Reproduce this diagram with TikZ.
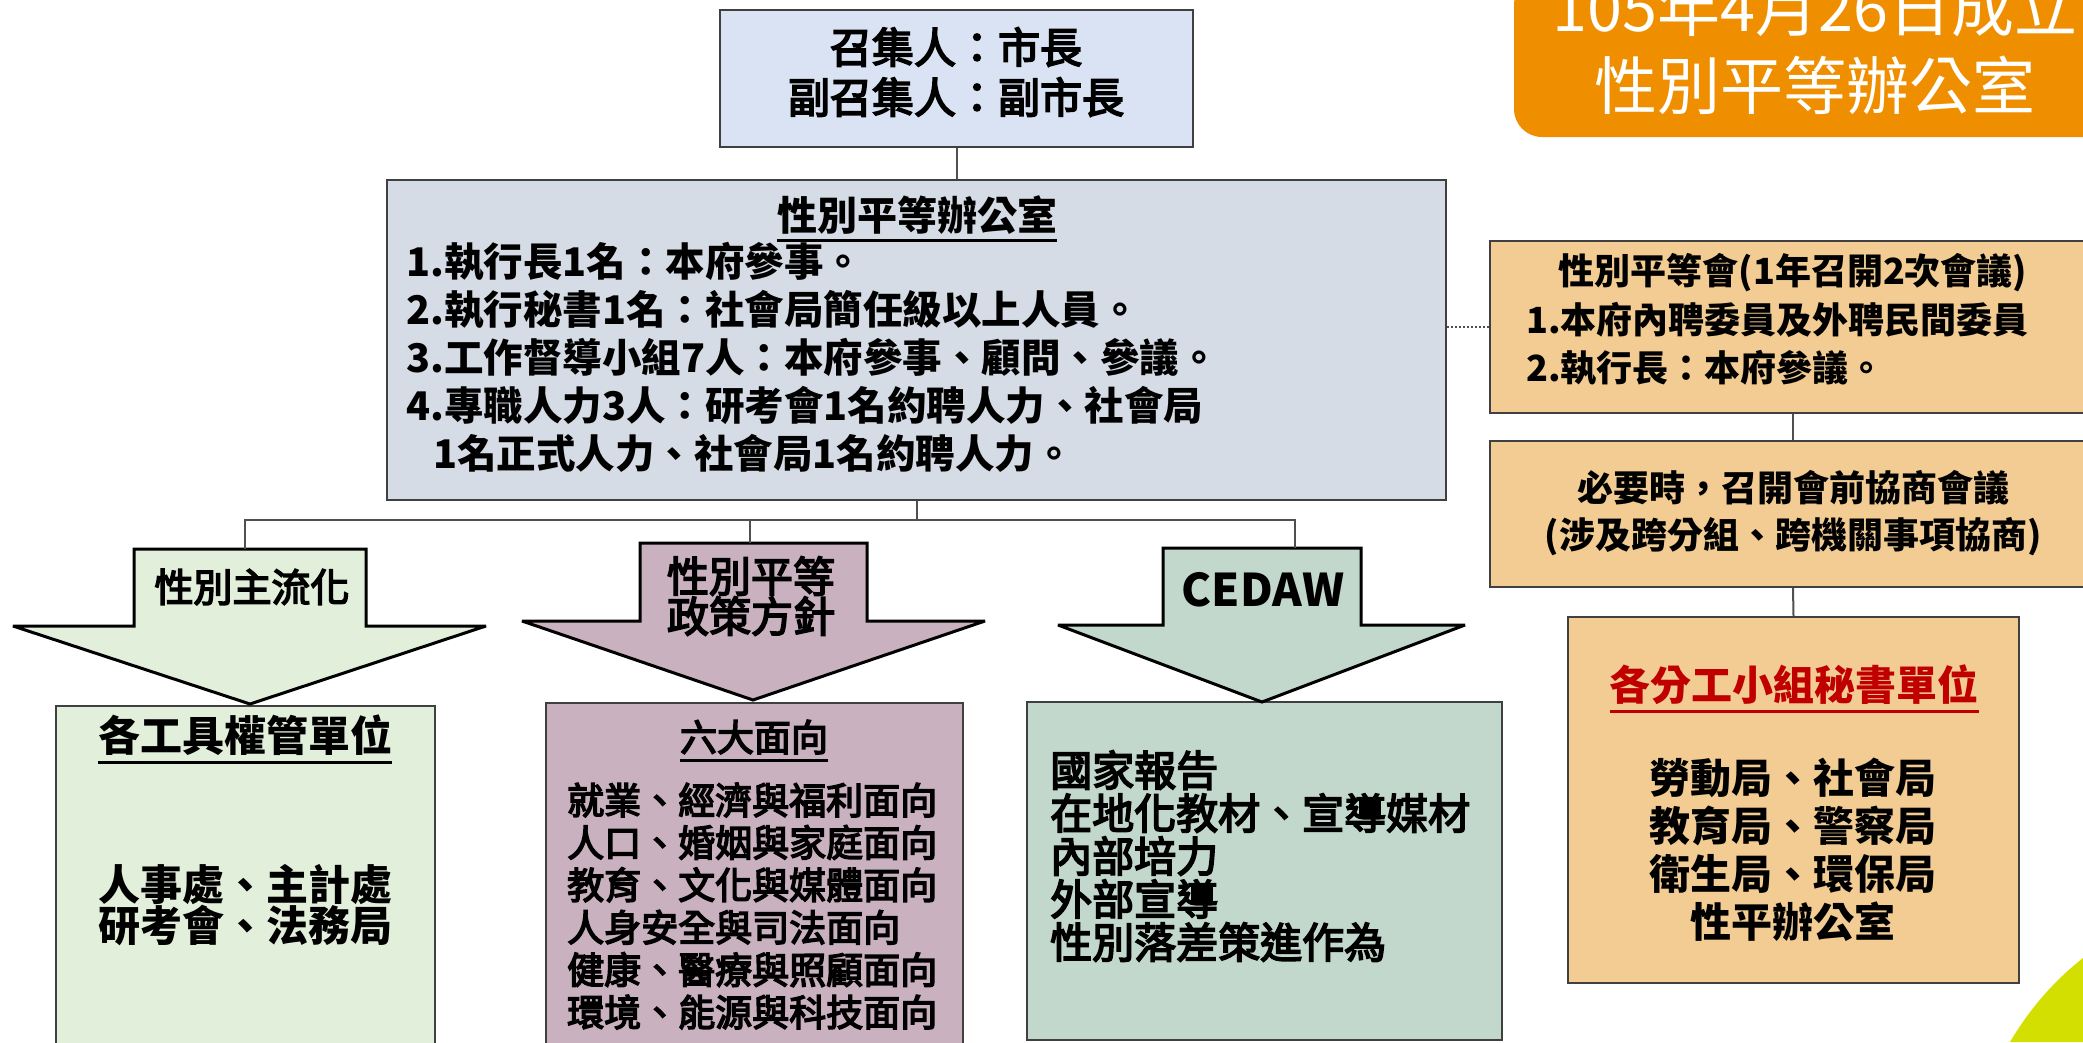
\documentclass[tikz,border=0pt]{standalone}
\usepackage{fontspec}
\setmainfont{Noto Sans CJK TC}
\newfontfamily\medfont{Noto Sans CJK TC}[FakeBold=4]

\definecolor{titleorange}{HTML}{EF8F00}
\definecolor{convblue}{HTML}{DAE3F3}
\definecolor{officegray}{HTML}{D6DCE5}
\definecolor{counciltan}{HTML}{F2CC92}
\definecolor{mainstreamgreen}{HTML}{E2EFDA}
\definecolor{policymauve}{HTML}{C9B1BF}
\definecolor{cedawgreen}{HTML}{C3D8CC}
\definecolor{leafgreen}{HTML}{D3DF00}
\definecolor{unitred}{HTML}{C00000}
\definecolor{boxline}{HTML}{404040}
\definecolor{connline}{HTML}{505050}

\newcommand{\fs}[2]{\fontsize{#1}{#2}\selectfont}
\newcommand{\undl}[1]{\setbox0=\hbox{#1}\rlap{\smash{\rule[-0.3em]{\wd0}{0.075em}}}\box0}

\begin{document}
\begin{tikzpicture}[
    x=1pt, y=-1pt,
    box/.style={draw=boxline, line width=2pt, inner sep=0pt},
    conn/.style={draw=connline, line width=2pt},
    blockarrow/.style={draw=black, line width=3pt, line join=miter, miter limit=2},
    txt/.style={inner sep=0pt, align=center}]
  \useasboundingbox (0,0) rectangle (2083,1042);
  \clip (0,0) rectangle (2083,1042);

  \node[fill=titleorange, rounded corners=28pt, minimum width=600pt, minimum height=160pt] (titlebox) at (1814,57) {};
  \node[txt, font=\fs{63}{78}, text=white] (titletxt) at (1815,46) {105年4月26日成立\\性別平等辦公室};

  \node[box, fill=convblue, minimum width=473pt, minimum height=137pt] (conv) at (956.5,78.5) {};
  \node[txt, font=\fs{42}{50}\medfont] (convtxt) at (956,72) {召集人：市長\\副召集人：副市長};

  \node[box, fill=officegray, minimum width=1059pt, minimum height=320pt] (office) at (916.5,340) {};
  \node[txt, font=\fs{40}{48}\bfseries] (officehead) at (917,215) {\undl{性別平等辦公室}};
  \node[txt, align=left, anchor=west, font=\fs{39.5}{48}\bfseries] (officeduty) at (406,357.5) {1.執行長1名：本府參事。\\2.執行秘書1名：社會局簡任級以上人員。\\3.工作督導小組7人：本府參事、顧問、參議。\\4.專職人力3人：研考會1名約聘人力、社會局\\\hspace*{27pt}1名正式人力、社會局1名約聘人力。};

  \node[box, fill=counciltan, minimum width=606pt, minimum height=172pt] (council) at (1793,327) {};
  \node[txt, font=\fs{36}{48}\bfseries] (councilhead) at (1793,273) {性別平等會(1年召開2次會議)};
  \node[txt, align=left, anchor=west, font=\fs{36}{48}\bfseries] (councilmembers) at (1526,344) {1.本府內聘委員及外聘民間委員\\2.執行長：本府參議。};

  \node[box, fill=counciltan, minimum width=606pt, minimum height=146pt] (premeet) at (1793,514) {};
  \node[txt, font=\fs{36}{47}\bfseries] (premeettxt) at (1793,513.5) {必要時，召開會前協商會議\\(涉及跨分組、跨機關事項協商)};

  \node[box, fill=counciltan, minimum width=451pt, minimum height=366pt] (secr) at (1793.5,800) {};
  \node[txt, font=\fs{41}{48}\bfseries, text=unitred] (secrhead) at (1794,685) {\undl{各分工小組秘書單位}};
  \node[txt, font=\fs{41}{48}\bfseries] (secrunits) at (1793,849.5) {勞動局、社會局\\教育局、警察局\\衛生局、環保局\\性平辦公室};

  \node[box, fill=mainstreamgreen, minimum width=379pt, minimum height=354pt] (tools) at (245.5,883) {};
  \node[txt, font=\fs{42}{50}\bfseries] (toolshead) at (245,735) {\undl{各工具權管單位}};
  \node[txt, font=\fs{42}{41}\bfseries] (toolsunits) at (245,905.5) {人事處、主計處\\研考會、法務局};

  \node[box, fill=policymauve, minimum width=417pt, minimum height=357pt] (six) at (754.5,881.5) {};
  \node[txt, font=\fs{37}{42}\medfont] (sixhead) at (754,737) {\undl{六大面向}};
  \node[txt, align=left, anchor=west, font=\fs{37}{42.4}\medfont] (sixitems) at (567,906) {就業、經濟與福利面向\\人口、婚姻與家庭面向\\教育、文化與媒體面向\\人身安全與司法面向\\健康、醫療與照顧面向\\環境、能源與科技面向};

  \node[box, fill=cedawgreen, minimum width=475pt, minimum height=338pt] (cedawbox) at (1264.5,871) {};
  \node[txt, align=left, anchor=west, font=\fs{42}{43}\medfont] (cedawitems) at (1050,856) {國家報告\\在地化教材、宣導媒材\\內部培力\\外部宣導\\性別落差策進作為};

  \draw[blockarrow, fill=mainstreamgreen] (134,549) -- (366,549) -- (366,626) -- (486,626) -- (250,704) -- (13,626) -- (134,626) -- cycle;
  \draw[blockarrow, fill=policymauve] (640,543) -- (867,543) -- (867,621) -- (985,621) -- (753,700) -- (522,621) -- (640,621) -- cycle;
  \draw[blockarrow, fill=cedawgreen] (1163,548) -- (1361,548) -- (1361,625) -- (1465,625) -- (1262,702) -- (1058,625) -- (1163,625) -- cycle;
  \node[txt, font=\fs{39}{46}\medfont] (mainstream) at (252,587) {性別主流化};
  \node[txt, font=\fs{42}{38}\medfont] (policy) at (751,596) {性別平等\\政策方針};
  \node[txt, font=\fs{45}{50}\bfseries] (cedaw) at (1263,590) {CEDAW};

  \coordinate (split) at (916.5,520);
  \coordinate (top1) at (245,549);
  \coordinate (top2) at (750,543);
  \coordinate (top3) at (1295,548);
  \draw[conn] (conv.south) -- (conv.south |- office.north);
  \draw[conn] (office.south) -- (split);
  \draw[conn] (top1) |- (split) -| (top3);
  \draw[conn] (split -| top2) -- (top2);
  \draw[conn, dotted, line width=1.5pt] (council.west -| office.east) -- (council.west);
  \draw[conn] (council.south) -- (premeet.north);
  \draw[conn] (premeet.south) -- (secr.north);

  \fill[leafgreen] (2010,1042) .. controls (2030,1008) and (2055,980) .. (2083,958) -- (2083,1042) -- cycle;
\end{tikzpicture}
\end{document}
